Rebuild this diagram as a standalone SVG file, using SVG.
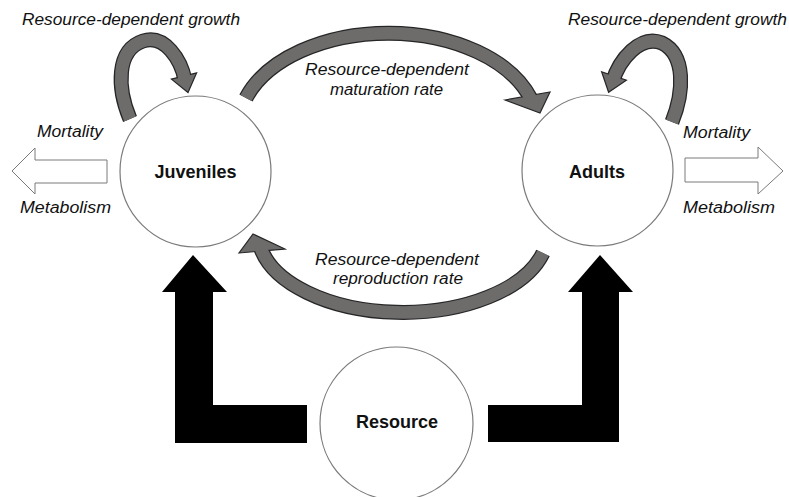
<svg xmlns="http://www.w3.org/2000/svg" width="789" height="497" viewBox="0 0 789 497">
<style>
.node{fill:#fff;stroke:#7a7a7a;stroke-width:1.2}
.nlab{font-family:"Liberation Sans",Arial,sans-serif;font-weight:bold;font-size:18px;fill:#111;text-anchor:middle}
.lab{font-family:"Liberation Sans",Arial,sans-serif;font-style:italic;font-size:16px;fill:#111}
.bandO{fill:none;stroke:#262626;stroke-width:15}
.bandI{fill:none;stroke:#6e6b6b;stroke-width:12.5}
.head{fill:#6e6b6b;stroke:#262626;stroke-width:1.2;stroke-linejoin:miter}
.hollow{fill:#fff;stroke:#7a7a7a;stroke-width:1}
.black{fill:#000}
</style>
<rect width="789" height="497" fill="#fff"/>
<g id="connectors">
  <!-- top maturation arc -->
  <path class="bandO" d="M246,98 A150,95 0 0 1 531,99"/>
  <polygon class="head" points="505,100 550,92 540,113"/>
  <path class="bandI" d="M246,98 A150,95 0 0 1 531,99"/>
  <!-- bottom reproduction arc -->
  <path class="bandO" d="M543,253 A145,80 0 0 1 260,246"/>
  <polygon class="head" points="239,253 285,249 253,234"/>
  <path class="bandI" d="M543,253 A145,80 0 0 1 260,246"/>
  <!-- left growth loop -->
  <path class="bandO" d="M130,119 C117,88 116,50 143,41 C165,34 181,60 185,80"/>
  <polygon class="head" points="171.4,79.1 196.6,72.9 188,92.5"/>
  <path class="bandI" d="M130,119 C117,88 116,50 143,41 C165,34 181,60 185,80"/>
  <!-- right growth loop -->
  <path class="bandO" d="M672,122 C684,92 686,55 662,43 C640,34 619,60 612.5,82"/>
  <polygon class="head" points="601.6,71.8 626.4,80.2 608.6,92.2"/>
  <path class="bandI" d="M672,122 C684,92 686,55 662,43 C640,34 619,60 612.5,82"/>
  <!-- hollow loss arrows -->
  <polygon class="hollow" points="107,160 35,160 35,148 12,171 35,194 35,183 107,183"/>
  <polygon class="hollow" points="685,158 758,158 758,147 783,171 758,194 758,182 685,182"/>
  <!-- black resource arrows -->
  <polygon class="black" points="307,405 213,405 213,292 227,292 193,255 162,292 175,292 175,443 307,443"/>
  <polygon class="black" points="488,405 582,405 582,292 568,292 600,255 633,292 619,292 619,442 488,442"/>
</g>
<g id="juveniles">
  <circle class="node" cx="195.5" cy="171.5" r="75.5"/>
  <text class="nlab" x="195.5" y="177.5">Juveniles</text>
</g>
<g id="adults">
  <circle class="node" cx="597.5" cy="170.5" r="75.5"/>
  <text class="nlab" x="597" y="177.5">Adults</text>
</g>
<g id="resource">
  <circle class="node" cx="396.5" cy="423.5" r="76.5"/>
  <text class="nlab" x="397" y="428">Resource</text>
</g>
<g id="labels">
  <text class="lab" x="22" y="25" textLength="218" lengthAdjust="spacingAndGlyphs">Resource-dependent growth</text>
  <text class="lab" x="568" y="25" textLength="219" lengthAdjust="spacingAndGlyphs">Resource-dependent growth</text>
  <text class="lab" x="37" y="137" textLength="66" lengthAdjust="spacingAndGlyphs">Mortality</text>
  <text class="lab" x="20" y="213" textLength="91" lengthAdjust="spacingAndGlyphs">Metabolism</text>
  <text class="lab" x="683" y="138" textLength="67" lengthAdjust="spacingAndGlyphs">Mortality</text>
  <text class="lab" x="683" y="213" textLength="92" lengthAdjust="spacingAndGlyphs">Metabolism</text>
  <text class="lab" x="305" y="75" textLength="164" lengthAdjust="spacingAndGlyphs">Resource-dependent</text>
  <text class="lab" x="330" y="95" textLength="113" lengthAdjust="spacingAndGlyphs">maturation rate</text>
  <text class="lab" x="315" y="265" textLength="164" lengthAdjust="spacingAndGlyphs">Resource-dependent</text>
  <text class="lab" x="333" y="284" textLength="130" lengthAdjust="spacingAndGlyphs">reproduction rate</text>
</g>
</svg>
